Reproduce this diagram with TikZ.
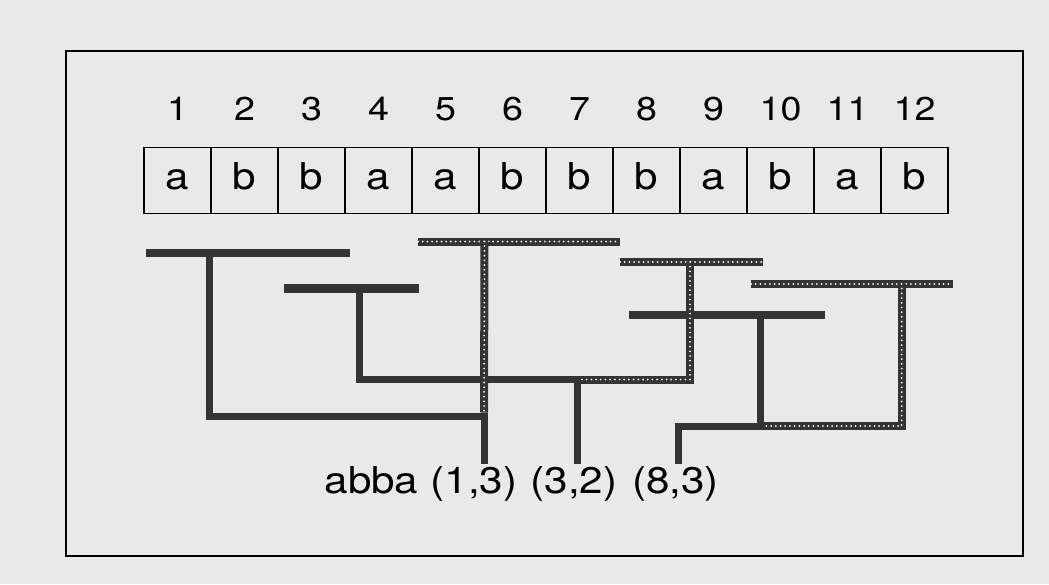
\documentclass[tikz,border=0pt]{standalone}
\usepackage{fontspec}
\setmainfont{TeX Gyre Heros}
\newfontfamily\widesans[FakeStretch=1.14]{TeX Gyre Heros}
\usepackage{tikz}
\usetikzlibrary{calc}
\definecolor{paper}{RGB}{233,233,231}
\definecolor{ink}{RGB}{52,52,52}
\tikzset{
  cell/.style={draw, line width=1.6pt, minimum width=67pt, minimum height=66pt,
    inner sep=0pt, text height=18pt, text depth=0pt, font=\widesans\fontsize{37}{40}\selectfont},
  idx/.style={anchor=base, font=\widesans\fontsize{33}{36}\selectfont},
  lbl/.style={anchor=base, inner sep=2pt, font=\widesans\fontsize{37}{40}\selectfont},
  bar/.style={ink, line width=8.5pt},
  link/.style={ink, line width=7pt},
  rope/.style={ink, line width=8pt,
    postaction={draw=white, line width=2pt, dash pattern=on 0pt off 4.7pt, line cap=round}},
}

\begin{document}
\begin{tikzpicture}[x=1pt, y=-1pt]
\fill[paper] (0,0) rectangle (1049,584);
\draw[line width=2.8pt] (66,51) rectangle (1023,556);

% the string with its positions
\coordinate (numrow) at (0,120);
\foreach \ch [count=\i] in {a,b,b,a,a,b,b,b,a,b,a,b} {
  \node[cell] (c\i) at ({110.5+67*\i},180.5) {\ch};
  \node[idx] (n\i) at (c\i |- numrow) {\i};
}

% output of the parse
\node[lbl] (abba) at (371.5,493) {abba};
\node[lbl] (l13) at (474,493) {(1,3)};
\node[lbl] (l32) at (574,493) {(3,2)};
\node[lbl] (l83) at (675.5,493) {(8,3)};

% solid bars: the source substrings
\coordinate (a1) at (146,253);   \coordinate (a2) at (350,253);   \coordinate (aS) at (209.5,253);
\coordinate (b1) at (284,288.5); \coordinate (b2) at (419,288.5); \coordinate (bS) at (359.5,288.5);
\coordinate (d1) at (629,315);   \coordinate (d2) at (825,315);   \coordinate (dS) at (760.5,315);
% textured bars: the copies
\coordinate (p1) at (418,241.5); \coordinate (p2) at (620,241.5); \coordinate (pS) at (484.5,241.5);
\coordinate (q1) at (620,262);   \coordinate (q2) at (763,262);   \coordinate (qS) at (690,262);
\coordinate (r1) at (751,284);   \coordinate (r2) at (953,284);   \coordinate (rS) at (901.7,284);
% joins
\coordinate (j13) at (484,416);
\coordinate (j32) at (577.5,379.5);
\coordinate (j83) at (678.5,426);
\coordinate (k83) at (760.5,426);

\draw[bar] (a1) -- (a2);
\draw[link] (aS) |- (j13) -- (j13 |- l13.north);
\draw[bar] (b1) -- (b2);
\draw[link] (bS) |- (j32) -- (j32 |- l32.north);
\draw[bar] (d1) -- (d2);
\draw[link] (dS) |- (j83) -- (j83 |- l83.north);

\draw[rope] (p1) -- (p2);
\draw[rope, shorten >=3.5pt] (pS) -- (j13);
\draw[rope] (q1) -- (q2);
\draw[rope, shorten >=3.5pt] (qS) |- (j32);
\draw[rope] (r1) -- (r2);
\draw[rope, shorten >=3.5pt] (rS) |- (k83);

\end{tikzpicture}
\end{document}
